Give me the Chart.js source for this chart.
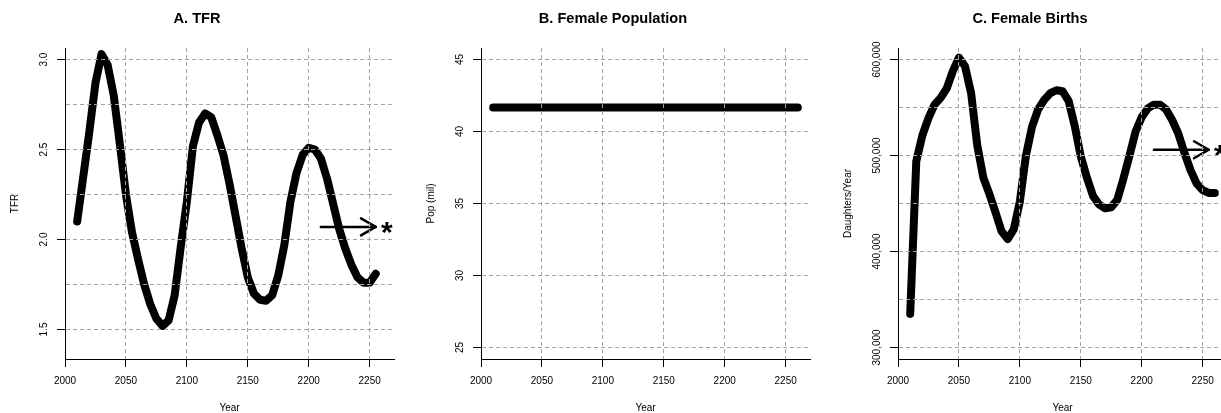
<!DOCTYPE html>
<html>
<head>
<meta charset="utf-8">
<script src="https://cdn.jsdelivr.net/npm/chart.js@4.4.1/dist/chart.umd.min.js"></script>
<style>
  html, body { margin: 0; padding: 0; background: #fff; overflow: hidden; width: 1221px; height: 413px; position: relative; }
  canvas.panel { position: absolute; top: 0; }
</style>
</head>
<body>
<canvas id="tfrChart" class="panel" width="416" height="413" style="left:0px"></canvas>
<canvas id="popChart" class="panel" width="416" height="413" style="left:416px"></canvas>
<canvas id="birthsChart" class="panel" width="416" height="413" style="left:833px"></canvas>
<script>
// ---- data ----
const years = [2010, 2015, 2020, 2025, 2030, 2035, 2040, 2045, 2050, 2055,
               2060, 2065, 2070, 2075, 2080, 2085, 2090, 2095, 2100, 2105,
               2110, 2115, 2120, 2125, 2130, 2135, 2140, 2145, 2150, 2155,
               2160, 2165, 2170, 2175, 2180, 2185, 2190, 2195, 2200, 2205,
               2210, 2215, 2220, 2225, 2230, 2235, 2240, 2245, 2250, 2255, 2260];

// total fertility rate, 2010-2255
const tfr = [2.10, 2.35, 2.60, 2.87, 3.03, 2.97, 2.80, 2.53, 2.25, 2.04,
             1.89, 1.75, 1.64, 1.56, 1.52, 1.55, 1.69, 1.96, 2.21, 2.52,
             2.65, 2.70, 2.68, 2.58, 2.47, 2.31, 2.13, 1.95, 1.79, 1.70,
             1.665, 1.66, 1.69, 1.80, 1.97, 2.21, 2.37, 2.47, 2.51, 2.50,
             2.45, 2.34, 2.20, 2.06, 1.95, 1.86, 1.79, 1.76, 1.76, 1.81];

// female population (millions)
const femalePop = [41.67, 41.67, 41.67, 41.67, 41.67, 41.67, 41.67, 41.67, 41.67, 41.67,
                   41.67, 41.67, 41.67, 41.67, 41.67, 41.67, 41.67, 41.67, 41.67, 41.67,
                   41.67, 41.67, 41.67, 41.67, 41.67, 41.67, 41.67, 41.67, 41.67, 41.67,
                   41.67, 41.67, 41.67, 41.67, 41.67, 41.67, 41.67, 41.67, 41.67, 41.67,
                   41.67, 41.67, 41.67, 41.67, 41.67, 41.67, 41.67, 41.67, 41.67, 41.67, 41.67];

// female births per year
const femaleBirths = [335000, 494000, 521000, 539000, 553000, 560000, 570000, 588000, 602000, 593000,
                      565000, 511000, 477000, 460000, 441000, 421000, 413000, 423000, 452000, 500000,
                      530000, 548000, 558000, 565000, 568000, 567000, 557000, 531000, 499000, 477000,
                      458000, 449000, 445000, 446000, 454000, 476000, 500000, 525000, 540000, 549000,
                      553000, 553000, 548000, 537000, 523000, 503000, 485000, 471000, 464000, 461000, 461000];

// reference arrows (start year, end year) and their levels
const arrowYears = [2210, 2255];
const tfrArrowLevel = 2.07;
const birthsArrowLevel = 506000;

// axis ticks
const yearTicks = [2000, 2050, 2100, 2150, 2200, 2250];
const tfrGrid = [1.5, 1.75, 2.0, 2.25, 2.5, 2.75, 3.0];
const tfrTicks = [1.5, 2.0, 2.5, 3.0];
const tfrTickText = ['1.5', '2.0', '2.5', '3.0'];
const popGrid = [25, 30, 35, 40, 45];
const popTicks = [25, 30, 35, 40, 45];
const popTickText = ['25', '30', '35', '40', '45'];
const birthsGrid = [300000, 350000, 400000, 450000, 500000, 550000, 600000];
const birthsTicks = [300000, 400000, 500000, 600000];
const birthsTickText = ['300,000', '400,000', '500,000', '600,000'];

// ---- styling ----
const FONT = '"Liberation Sans", Arial, Helvetica, sans-serif';
const GRID_COLOR = '#a3a3a3';
const CLEAR = 'rgba(0,0,0,0)';
Chart.defaults.font.family = FONT;
Chart.defaults.color = '#000';

const measureCtx = document.createElement('canvas').getContext('2d');
measureCtx.font = '10px ' + FONT;
function yLabelPadding(texts) {
  const widest = Math.max(...texts.map(t => measureCtx.measureText(t).width));
  return 13 - widest / 2;   // centres the rotated labels ~21px left of the axis
}

// arrowhead and asterisk at the end of an annotation segment
const arrowNote = {
  id: 'arrowNote',
  afterDatasetsDraw(chart) {
    const ctx = chart.ctx;
    chart.data.datasets.forEach((ds, i) => {
      if (!ds.arrowNote) return;
      const pts = chart.getDatasetMeta(i).data;
      const a = pts[pts.length - 2], b = pts[pts.length - 1];
      const ang = Math.atan2(b.y - a.y, b.x - a.x);
      const len = 17, spread = Math.PI / 6;
      ctx.save();
      ctx.strokeStyle = '#000';
      ctx.lineWidth = ds.borderWidth;
      ctx.lineCap = 'round';
      ctx.lineJoin = 'round';
      ctx.beginPath();
      ctx.moveTo(b.x - len * Math.cos(ang - spread), b.y - len * Math.sin(ang - spread));
      ctx.lineTo(b.x, b.y);
      ctx.lineTo(b.x - len * Math.cos(ang + spread), b.y - len * Math.sin(ang + spread));
      ctx.stroke();
      ctx.font = 'bold 30px ' + FONT;
      ctx.fillStyle = '#000';
      ctx.textAlign = 'center';
      ctx.textBaseline = 'alphabetic';
      ctx.fillText(ds.arrowNote, b.x + 11, b.y + 15);
      ctx.restore();
    });
  }
};

function toPoints(xs, ys) {
  return ys.map((v, i) => ({ x: xs[i], y: v }));
}

function makePanel(id, p) {
  const isLabelled = v => p.ticks.some(t => Math.abs(t - v) < 1e-9);
  const labelFor = v => {
    const k = p.ticks.findIndex(t => Math.abs(t - v) < 1e-9);
    return k >= 0 ? p.tickText[k] : '';
  };
  const datasets = [{
    data: toPoints(p.xs, p.ys),
    borderColor: '#000',
    borderWidth: 8,
    borderCapStyle: 'round',
    borderJoinStyle: 'round',
    pointRadius: 0,
    tension: 0,
    fill: false
  }];
  if (p.arrowLevel !== undefined) {
    datasets.push({
      data: toPoints(arrowYears, arrowYears.map(() => p.arrowLevel)),
      borderColor: '#000',
      borderWidth: 2.5,
      borderCapStyle: 'round',
      pointRadius: 0,
      fill: false,
      arrowNote: '*'
    });
  }
  return new Chart(document.getElementById(id), {
    type: 'line',
    data: { datasets },
    plugins: [arrowNote],
    options: {
      responsive: false,
      animation: false,
      devicePixelRatio: 1,
      events: [],
      layout: { padding: { left: 0, right: 22, top: 0, bottom: 0 } },
      plugins: {
        legend: { display: false },
        tooltip: { enabled: false },
        title: {
          display: true,
          text: p.title,
          color: '#000',
          font: { family: FONT, size: 14.6, weight: 'bold' },
          padding: { top: 10.4, bottom: 20.1 }
        }
      },
      scales: {
        x: {
          type: 'linear',
          min: 2000,
          max: 2270,
          afterBuildTicks: s => { s.ticks = yearTicks.map(v => ({ value: v })); },
          afterFit: s => { s.height = 54; },
          ticks: {
            autoSkip: false, maxRotation: 0, padding: 8.2, color: '#000',
            font: { family: FONT, size: 10 },
            callback: v => String(v)
          },
          grid: {
            z: 1,
            lineWidth: 1,
            color: c => (c.tick && c.tick.value === 2000) ? CLEAR : GRID_COLOR,
            tickLength: 8,
            tickColor: '#000',
            tickWidth: 1
          },
          border: { display: true, color: '#000', width: 1, dash: [4, 3], z: 1 },
          title: {
            display: true, text: 'Year', color: '#000',
            font: { family: FONT, size: 10 },
            padding: { top: 0, bottom: -0.9 }
          }
        },
        y: {
          type: 'linear',
          min: p.yMin,
          max: p.yMax,
          afterBuildTicks: s => { s.ticks = p.grid.map(v => ({ value: v })); },
          afterFit: s => { s.width = 65; },
          ticks: {
            autoSkip: false, minRotation: 90, maxRotation: 90, crossAlign: 'center',
            padding: yLabelPadding(p.tickText), color: '#000',
            font: { family: FONT, size: 10 },
            callback: v => labelFor(v)
          },
          grid: {
            z: 1,
            lineWidth: 1,
            color: GRID_COLOR,
            tickLength: 8,
            tickColor: c => (c.tick && isLabelled(c.tick.value)) ? '#000' : CLEAR,
            tickWidth: 1
          },
          border: { display: true, color: '#000', width: 1, dash: [4, 3], z: 1 },
          title: {
            display: true, text: p.yTitle, color: '#000',
            font: { family: FONT, size: 10 },
            padding: { top: 9.5, bottom: 0 }
          }
        }
      }
    }
  });
}

makePanel('tfrChart', {
  title: 'A. TFR', yTitle: 'TFR',
  xs: years, ys: tfr,
  yMin: 1.336, yMax: 3.064,
  grid: tfrGrid, ticks: tfrTicks, tickText: tfrTickText,
  arrowLevel: tfrArrowLevel
});

makePanel('popChart', {
  title: 'B. Female Population', yTitle: 'Pop (mil)',
  xs: years, ys: femalePop,
  yMin: 24.2, yMax: 45.8,
  grid: popGrid, ticks: popTicks, tickText: popTickText
});

makePanel('birthsChart', {
  title: 'C. Female Births', yTitle: 'Daughters/Year',
  xs: years, ys: femaleBirths,
  yMin: 288000, yMax: 612000,
  grid: birthsGrid, ticks: birthsTicks, tickText: birthsTickText,
  arrowLevel: birthsArrowLevel
});
</script>
</body>
</html>
